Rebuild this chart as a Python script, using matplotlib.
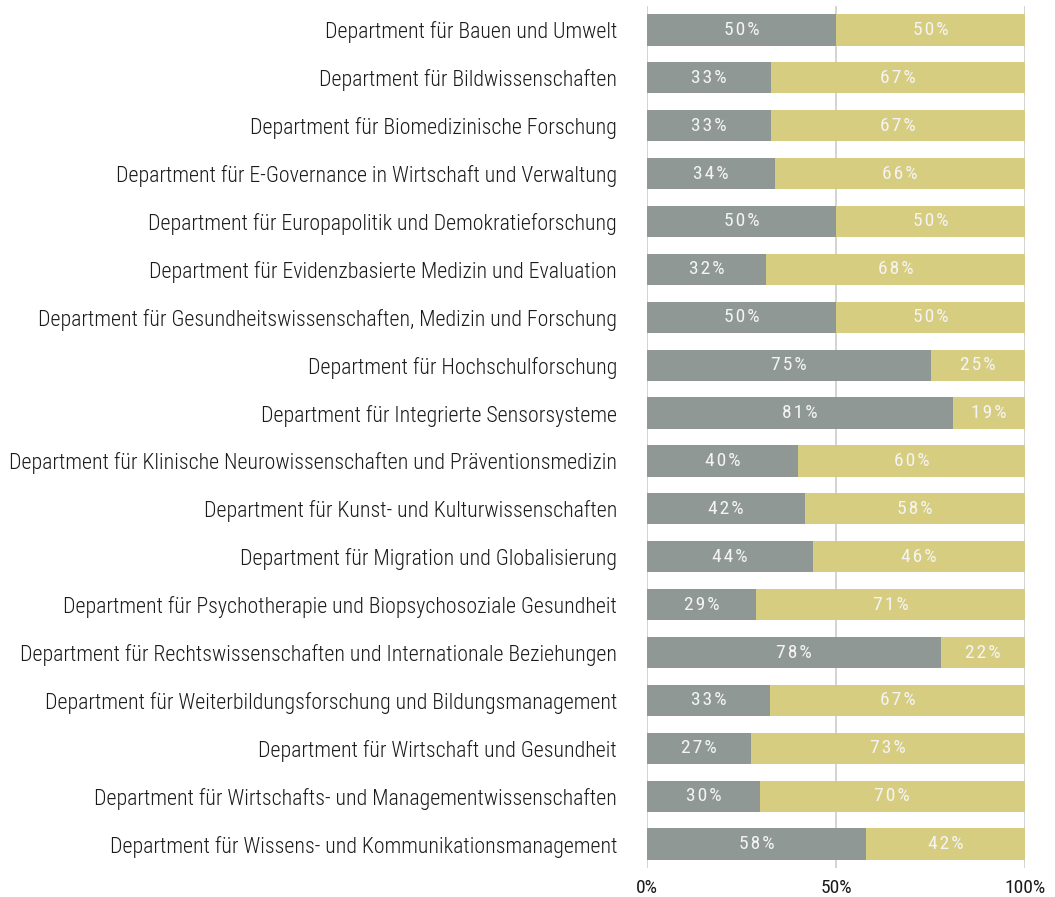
import matplotlib
matplotlib.use("Agg")
import matplotlib.pyplot as plt
import numpy as np

plt.rcParams["font.family"] = ["Roboto Condensed", "Liberation Sans Narrow", "Roboto", "DejaVu Sans"]

departments = [
    "Department für Bauen und Umwelt",
    "Department für Bildwissenschaften",
    "Department für Biomedizinische Forschung",
    "Department für E-Governance in Wirtschaft und Verwaltung",
    "Department für Europapolitik und Demokratieforschung",
    "Department für Evidenzbasierte Medizin und Evaluation",
    "Department für Gesundheitswissenschaften, Medizin und Forschung",
    "Department für Hochschulforschung",
    "Department für Integrierte Sensorsysteme",
    "Department für Klinische Neurowissenschaften und Präventionsmedizin",
    "Department für Kunst- und Kulturwissenschaften",
    "Department für Migration und Globalisierung",
    "Department für Psychotherapie und Biopsychosoziale Gesundheit",
    "Department für Rechtswissenschaften und Internationale Beziehungen",
    "Department für Weiterbildungsforschung und Bildungsmanagement",
    "Department für Wirtschaft und Gesundheit",
    "Department für Wirtschafts- und Managementwissenschaften",
    "Department für Wissens- und Kommunikationsmanagement",
]
share_grey = [50, 32.8, 32.8, 33.8, 50, 31.5, 50, 75, 81, 40, 41.8, 43.9, 28.9, 77.8, 32.5, 27.5, 29.8, 57.9]
share_yellow = [100 - v for v in share_grey]
label_grey = ["50%", "33%", "33%", "34%", "50%", "32%", "50%", "75%", "81%", "40%",
              "42%", "44%", "29%", "78%", "33%", "27%", "30%", "58%"]
label_yellow = ["50%", "67%", "67%", "66%", "50%", "68%", "50%", "25%", "19%", "60%",
                "58%", "46%", "71%", "22%", "67%", "73%", "70%", "42%"]

GREY = "#909896"
YELLOW = "#d7cd80"


def spaced(s):
    # slight letter spacing like the original
    return "\u200a".join(s)


fig = plt.figure(figsize=(10.55, 8.97), dpi=100)
ax = fig.add_axes([647 / 1055, 29 / 897, 378 / 1055, 862 / 897])

y = np.arange(len(departments))
ax.barh(y, share_grey, height=0.65, color=GREY, zorder=2)
ax.barh(y, share_yellow, left=share_grey, height=0.65, color=YELLOW, zorder=2)

for i in range(len(departments)):
    ax.text(share_grey[i] / 2, y[i], spaced(label_grey[i]),
            ha="center", va="center", color="#f4f4f4", fontsize=14, zorder=3)
    ax.text(share_grey[i] + share_yellow[i] / 2, y[i], spaced(label_yellow[i]),
            ha="center", va="center", color="#f4f4f4", fontsize=14, zorder=3)

for xv in [0, 50, 100]:
    ax.axvline(xv, color="#cccccc", lw=1.2, zorder=1)

ax.set_xlim(0, 100)
ax.set_ylim(len(departments) - 0.5, -0.5)
ax.set_yticks(y)
ax.set_yticklabels(departments, fontsize=15.75, color="#1a1a1a", fontweight="light")
ax.set_xticks([0, 50, 100])
ax.set_xticklabels(["0%", "50%", "100%"], fontsize=14, color="#1a1a1a")
ax.tick_params(length=0)
ax.tick_params(axis="y", pad=21.5)
ax.tick_params(axis="x", pad=8)
for s in ax.spines.values():
    s.set_visible(False)

fig.savefig("out.png", dpi=100)
